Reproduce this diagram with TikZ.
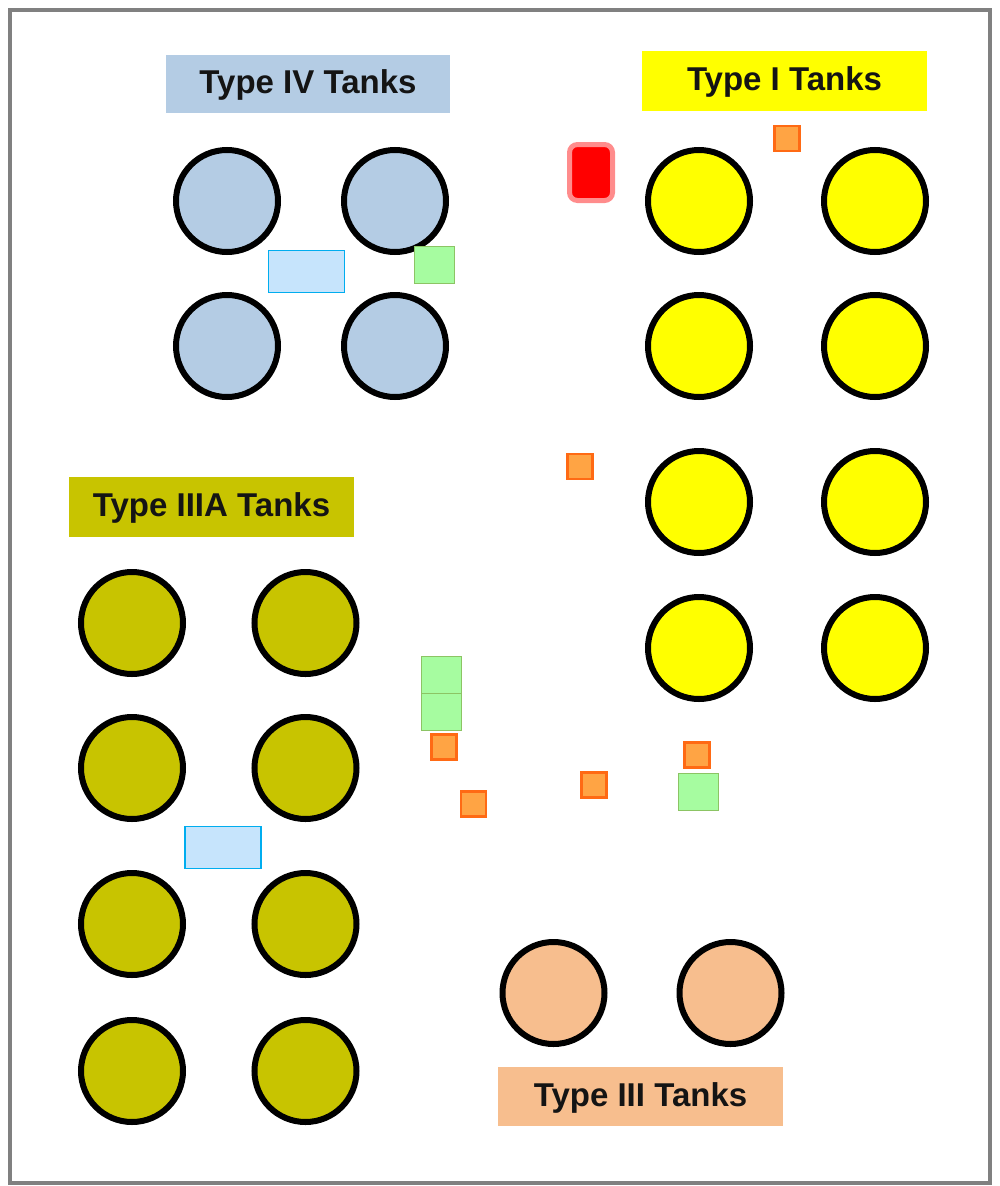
\documentclass[tikz,border=0pt]{standalone}
\usepackage{fontspec}
\setmainfont{Liberation Sans}
\definecolor{tblue}{HTML}{B4CCE4}
\definecolor{tyellow}{HTML}{FFFF00}
\definecolor{tolive}{HTML}{C8C400}
\definecolor{tpeach}{HTML}{F7BE8E}
\definecolor{wfill}{HTML}{C6E4FC}
\definecolor{gfill}{HTML}{A6FCA0}
\definecolor{gline}{HTML}{8CC464}
\definecolor{ofill}{HTML}{FFA444}
\definecolor{oline}{HTML}{FF6A14}
\definecolor{frame}{HTML}{808080}
\tikzset{
  tank/.style={circle, draw=black, line width=6pt, minimum size=102pt, inner sep=0pt},
  tlabel/.style={inner sep=0pt, minimum width=285pt, minimum height=59pt, text=black!92,
    text height=23.6pt, text depth=4pt,
    font=\bfseries\fontsize{33}{36}\selectfont},
  wbox/.style={draw=cyan, line width=1.5pt, fill=wfill, inner sep=0pt, minimum width=76pt, minimum height=42pt},
  gbox/.style={draw=gline, line width=1pt, fill=gfill, inner sep=0pt, minimum width=40pt, minimum height=37pt},
  obox/.style={draw=oline, line width=2.2pt, fill=ofill, inner sep=0pt, minimum size=25pt},
}
\begin{document}
\begin{tikzpicture}[x=1pt,y=-1pt]
\useasboundingbox (0,0) rectangle (999,1186);
\draw[frame, line width=4pt] (10,10) rectangle (990,1183);
% labels
\node[tlabel, fill=tblue, minimum width=284pt, minimum height=58pt] (liv) at (308,84) {Type IV Tanks};
\node[tlabel, fill=tyellow, minimum height=60pt] (li) at (784.5,81) {Type I Tanks};
\node[tlabel, fill=tolive, minimum height=60pt] (liiia) at (211.5,507) {Type IIIA Tanks};
\node[tlabel, fill=tpeach] (liii) at (640.5,1096.5) {Type III Tanks};
% Type IV tanks
\node[tank, fill=tblue] (iv1) at (227,201) {};
\node[tank, fill=tblue] (iv2) at (395,201) {};
\node[tank, fill=tblue] (iv3) at (227,346) {};
\node[tank, fill=tblue] (iv4) at (395,346) {};
% Type I tanks
\foreach \r/\y in {1/201,2/346,3/502,4/648}{
  \node[tank, fill=tyellow] (i\r a) at (699,\y) {};
  \node[tank, fill=tyellow] (i\r b) at (875,\y) {};
}
% Type IIIA tanks
\foreach \r/\y in {1/623,2/768,3/924,4/1071}{
  \node[tank, fill=tolive] (iiia\r a) at (132,\y) {};
  \node[tank, fill=tolive] (iiia\r b) at (305.5,\y) {};
}
% Type III tanks
\node[tank, fill=tpeach] (iii1) at (553.5,993) {};
\node[tank, fill=tpeach] (iii2) at (730.5,993) {};
% small boxes
\node[wbox] (w1) at (306.5,271.5) {};
\node[wbox] (w2) at (223,847.5) {};
\node[gbox] (g1) at (434.5,264.5) {};
\node[gbox] (g2) at (441.5,674.5) {};
\node[gbox] (g3) at (441.5,712) {};
\node[gbox] (g4) at (698.5,792) {};
\node[obox] (o1) at (787,138.5) {};
\node[obox] (o2) at (580,466.5) {};
\node[obox] (o3) at (444,747) {};
\node[obox] (o4) at (473.5,804) {};
\node[obox] (o5) at (594,785) {};
\node[obox] (o6) at (697,755) {};
% red unit
\node[draw=red!45, fill=red, line width=5pt, rounded corners=8pt, inner sep=0pt,
  minimum width=43pt, minimum height=56pt] (r1) at (591,172.5) {};
\end{tikzpicture}
\end{document}
